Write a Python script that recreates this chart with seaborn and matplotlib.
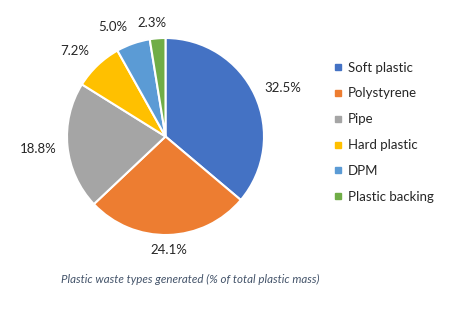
import matplotlib
matplotlib.use("Agg")
import numpy as np
import matplotlib.pyplot as plt
import seaborn as sns
from matplotlib.lines import Line2D

categories = ["Soft plastic", "Polystyrene", "Pipe", "Hard plastic", "DPM", "Plastic backing"]
values = [32.5, 24.1, 18.8, 7.2, 5.0, 2.3]
value_labels = ["32.5%", "24.1%", "18.8%", "7.2%", "5.0%", "2.3%"]
caption = "Plastic waste types generated (% of total plastic mass)"

# label placement (style): radial distance and angular nudge in degrees
label_dist = [1.29, 1.15, 1.30, 1.27, 1.23, 1.16]
label_nudge = [-2.5, 0, 0, 3, 6.5, 2.2]

sns.set_theme(style="white")
plt.rcParams["font.family"] = ["Lato", "DejaVu Sans"]

colors = sns.color_palette(["#4472C4", "#ED7D31", "#A5A5A5", "#FFC000", "#5B9BD5", "#70AD47"])

fig = plt.figure(figsize=(4.64, 3.11), dpi=100)
ax = fig.add_axes([67 / 464, (311 - 235) / 311, 197 / 464, 197 / 311])

wedges, texts = ax.pie(
    values,
    colors=colors,
    startangle=90,
    counterclock=False,
    radius=1.0,
    wedgeprops=dict(edgecolor="white", linewidth=1.5),
)
for w, lab, d, n in zip(wedges, value_labels, label_dist, label_nudge):
    ang = np.deg2rad((w.theta1 + w.theta2) / 2 + n)
    ax.text(d * np.cos(ang), d * np.sin(ang), lab, ha="center", va="center",
            fontsize=9.5, color="#262626")
ax.set_xlim(-1, 1)
ax.set_ylim(-1, 1)
ax.set_aspect("auto")
ax.axis("off")

handles = [Line2D([0], [0], marker="s", linestyle="none", markersize=4.5,
                  markerfacecolor=c, markeredgecolor=c) for c in colors]
fig.legend(handles, categories, loc="upper left", bbox_to_anchor=(327 / 464, 1 - 55 / 311),
           frameon=False, fontsize=9.5, handlelength=0.6, handletextpad=0.5,
           labelspacing=1.05, borderpad=0, labelcolor="#262626")

fig.text(190 / 464, 1 - 279 / 311, caption, ha="center", va="center",
         fontsize=8.3, style="italic", color="#44546A")

fig.savefig("out.png", dpi=100)
